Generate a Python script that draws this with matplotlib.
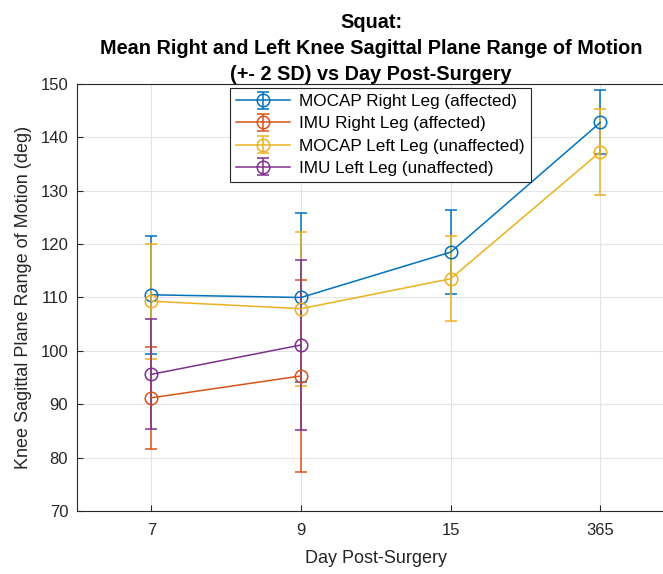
import matplotlib.pyplot as plt
import numpy as np

plt.rcParams['font.family'] = ['Liberation Sans', 'DejaVu Sans']

days = ["7", "9", "15", "365"]

mocap_right = [110.5, 110.0, 118.5, 142.8]
mocap_right_err = [11.1, 15.8, 7.8, 6.0]
imu_right = [91.2, 95.3]
imu_right_err = [9.5, 18.0]
mocap_left = [109.3, 107.9, 113.5, 137.3]
mocap_left_err = [10.8, 14.4, 8.0, 8.1]
imu_left = [95.6, 101.1]
imu_left_err = [10.3, 16.0]

colors = ["#0072BD", "#D95319", "#EDB120", "#7E2F8E"]

fig = plt.figure(figsize=(6.63, 5.74), dpi=100)
ax = fig.add_axes([0.1154, 0.1098, 0.903, 0.7439])

x = np.arange(1, len(days) + 1)
series = [
    (mocap_right, mocap_right_err, "MOCAP Right Leg (affected)"),
    (imu_right, imu_right_err, "IMU Right Leg (affected)"),
    (mocap_left, mocap_left_err, "MOCAP Left Leg (unaffected)"),
    (imu_left, imu_left_err, "IMU Left Leg (unaffected)"),
]
for (vals, err, label), c in zip(series, colors):
    n = len(vals)
    ax.errorbar(x[:n], vals, yerr=err, color=c, marker="o", markersize=9,
                markerfacecolor="none", markeredgewidth=1.1, linewidth=1.1,
                elinewidth=1.1, capsize=4.0, capthick=1.1, label=label)

ax.set_xlim(0.5, 4.5)
ax.set_ylim(70, 150)
ax.set_xticks(x)
ax.set_xticklabels(days)
ax.set_yticks(np.arange(70, 151, 10))
ax.grid(True, color="#e3e3e3", linewidth=0.8)
ax.set_axisbelow(True)
ax.tick_params(direction="in", labelsize=12, colors="#262626", length=4)
ax.tick_params(axis="x", pad=9)
ax.tick_params(axis="y", pad=6)
for s in ax.spines.values():
    s.set_color("#262626")

ax.set_xlabel("Day Post-Surgery", fontsize=13, color="#262626", labelpad=8)
ax.set_ylabel("Knee Sagittal Plane Range of Motion (deg)", fontsize=13, color="#262626", labelpad=6)
ax.set_title("Squat:\nMean Right and Left Knee Sagittal Plane Range of Motion\n(+- 2 SD) vs Day Post-Surgery",
             fontsize=14.3, fontweight="bold", linespacing=1.45, x=0.492, pad=3)

leg = ax.legend(loc="upper left", bbox_to_anchor=(0.256, 0.99), borderaxespad=0,
                fontsize=12.3, frameon=True, fancybox=False, edgecolor="#262626",
                framealpha=1, borderpad=0.35, labelspacing=0.42, handlelength=3.2,
                handletextpad=0.5)
leg.get_frame().set_linewidth(0.8)

fig.savefig("out.png", dpi=100)
